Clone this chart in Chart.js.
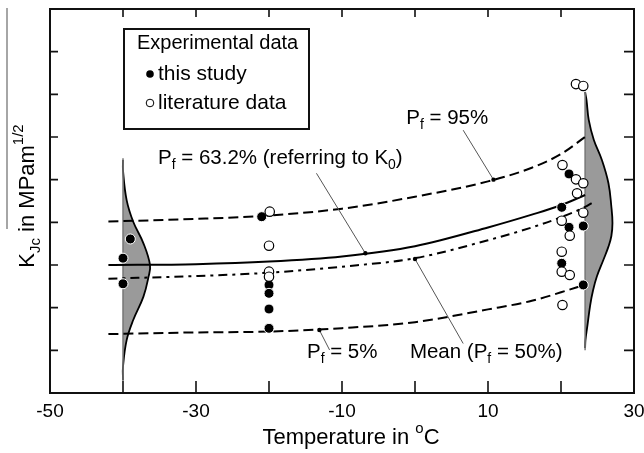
<!DOCTYPE html>
<html>
<head>
<meta charset="utf-8">
<script src="https://cdn.jsdelivr.net/npm/chart.js@4.4.1/dist/chart.umd.min.js"></script>
<style>
  html, body { margin: 0; background: #fff; }
</style>
</head>
<body>
<canvas id="chart" width="644" height="453"></canvas>
<script>
// curves
const curveT = [-42, -30, -20, -10, 0, 10, 16, 20, 23.3];
const pf95 = [201, 204, 208, 216, 230, 248, 264, 280, 300];
const pf632 = [150, 151, 154, 160, 172, 194, 209, 220, 232];
const meanT = [-42, -30, -20, -10, 0, 10, 16, 20, 23.3, 24.3];
const pf50 = [134, 137, 141, 148, 158, 179, 194, 206, 218, 223];
const pf5 = [69, 71, 72, 76, 83, 98, 108, 118, 127];

// experimental data
const studyT = [-39, -40, -40, -21, -20, -20, -20, -20, 21.1, 20.1, 21.1, 23.05, 20.1, 23.05];
const studyK = [180.5, 158, 128, 206.6, 126.6, 116.8, 98.4, 75.8, 256.7, 217.6, 194.2, 195.7, 152, 126.6];
const litT = [-19.9, -20, -20, -20, 20.2, 22.05, 23.05, 22.2, 23.05, 20.1, 21.2, 20.1, 20.1, 21.2, 20.2, 22.05, 23.05];
const litK = [212.5, 172.6, 142.2, 136.3, 267.2, 250.4, 245.8, 234, 211.3, 201.9, 184.4, 165.6, 142.2, 138.3, 103.1, 362, 359.8];

// scatter distributions at -40 and +23 degC
const distLT = [-40, -40, -39.5, -38.6, -37.2, -36.3, -36.5, -37.2, -38.6, -39.5, -40, -40];
const distLK = [273, 261, 226, 200.7, 175.4, 150, 136.3, 112.9, 85.5, 62, 30.8, 15.2];
const distRT = [23.3, 23.5, 23.8, 24.5, 25.6, 26.5, 26.9, 27.05, 26.9, 26.5, 25.8, 24.9, 24.4, 24.0, 23.6, 23.35, 23.3];
const distRK = [352.7, 343, 320, 296.5, 273, 245.8, 218.3, 199.2, 184, 171.5, 155.9, 136.3, 120.7, 103.1, 77.7, 62, 52.7];

const FONT = 'Arial, "Liberation Sans", sans-serif';
const pts = (xs, ys) => xs.map((v, i) => ({ x: v, y: ys[i] }));

function rich(ctx, parts, x, y, size, align) {
  const sizeOf = m => (m ? size * 0.68 : size);
  let w = 0;
  parts.forEach(([t, m]) => { ctx.font = `${sizeOf(m)}px ${FONT}`; w += ctx.measureText(t).width; });
  let cx = align === 'center' ? x - w / 2 : x;
  ctx.textBaseline = 'middle';
  ctx.textAlign = 'left';
  parts.forEach(([t, m]) => {
    ctx.font = `${sizeOf(m)}px ${FONT}`;
    const dy = m === 'sub' ? size * 0.34 : m === 'sup' ? -size * 0.42 : 0;
    ctx.fillText(t, cx, y + dy);
    cx += ctx.measureText(t).width;
  });
}

const notes = [
  { parts: [['P', ''], ['f', 'sub'], [' = 95%', '']], dot: [10.75, 250], end: [6.6, 308], at: [-1.2, 322] },
  { parts: [['P', ''], ['f', 'sub'], [' = 63.2% (referring to K', ''], ['0', 'sub'], [')', '']], dot: [-6.8, 163.7], end: [-13.5, 257.5], at: [-35.2, 275.4] },
  { parts: [['Mean (P', ''], ['f', 'sub'], [' = 50%)', '']], dot: [0, 157], end: [6.6, 58], at: [-0.7, 48] },
  { parts: [['P', ''], ['f', 'sub'], [' = 5%', '']], dot: [-13.1, 73.8], end: [-11.7, 50.4], at: [-14.8, 48] }
];

const decor = {
  id: 'decor',
  afterDatasetsDraw(chart) {
    const { ctx, scales: { x, y } } = chart;
    ctx.save();
    ctx.fillStyle = '#000';
    notes.forEach(n => {
      const dx = x.getPixelForValue(n.dot[0]), dy = y.getPixelForValue(n.dot[1]);
      ctx.strokeStyle = '#555';
      ctx.lineWidth = 1;
      ctx.beginPath();
      ctx.moveTo(dx, dy);
      ctx.lineTo(x.getPixelForValue(n.end[0]), y.getPixelForValue(n.end[1]));
      ctx.stroke();
      ctx.beginPath();
      ctx.arc(dx, dy, 2.2, 0, Math.PI * 2);
      ctx.fill();
      rich(ctx, n.parts, x.getPixelForValue(n.at[0]), y.getPixelForValue(n.at[1]), 20.5, 'left');
    });
    ctx.restore();
  },
  afterDraw(chart) {
    const { ctx, chartArea: a, scales: { x, y } } = chart;
    ctx.save();
    // frame + inward ticks
    ctx.strokeStyle = '#111';
    ctx.lineWidth = 2;
    ctx.strokeRect(a.left, a.top, a.right - a.left, a.bottom - a.top);
    ctx.lineWidth = 1.6;
    ctx.beginPath();
    x.ticks.forEach(t => {
      const px = x.getPixelForValue(t.value);
      ctx.moveTo(px, a.bottom); ctx.lineTo(px, a.bottom - 12);
      ctx.moveTo(px, a.top); ctx.lineTo(px, a.top + 8);
    });
    y.ticks.forEach(t => {
      const py = y.getPixelForValue(t.value);
      ctx.moveTo(a.left, py); ctx.lineTo(a.left + 8, py);
      ctx.moveTo(a.right, py); ctx.lineTo(a.right - 10, py);
    });
    ctx.stroke();

    // axis titles
    ctx.fillStyle = '#000';
    rich(ctx, [['Temperature in ', ''], ['o', 'sup'], ['C', '']], 351, 438, 22, 'center');
    ctx.save();
    ctx.translate(28, 196);
    ctx.rotate(-Math.PI / 2);
    rich(ctx, [['K', ''], ['Jc', 'sub'], [' in MPam', ''], ['1/2', 'sup']], 0, 0, 22, 'center');
    ctx.restore();
    ctx.strokeStyle = '#888';
    ctx.lineWidth = 1.5;
    ctx.beginPath();
    ctx.moveTo(7, 8); ctx.lineTo(7, 229);
    ctx.stroke();

    // legend box
    const lx = a.left + 74, ly = a.top + 20;
    ctx.strokeStyle = '#111';
    ctx.lineWidth = 2;
    ctx.strokeRect(lx, ly, 185, 100);
    ctx.font = `20px ${FONT}`;
    ctx.textBaseline = 'middle';
    ctx.textAlign = 'left';
    ctx.fillText('Experimental data', lx + 13, ly + 14);
    const ds = chart.data.datasets;
    ctx.font = `21px ${FONT}`;
    [0, 1].forEach(i => {
      const cy = ly + 45 + i * 29;
      ctx.beginPath();
      ctx.arc(lx + 26, cy, 3.8, 0, Math.PI * 2);
      ctx.fillStyle = ds[i].backgroundColor;
      ctx.fill();
      ctx.lineWidth = 1;
      ctx.strokeStyle = '#000';
      if (i === 1) ctx.stroke();
      ctx.fillStyle = '#000';
      ctx.fillText(ds[i].label, lx + 34, cy);
    });
    ctx.restore();
  }
};

const curve = (label, xs, ys, dash, order) => ({
  label, data: pts(xs, ys), borderColor: '#000', borderWidth: 2, borderDash: dash,
  pointRadius: 0, fill: false, cubicInterpolationMode: 'monotone', order
});
const dist = (label, xs, ys) => ({
  label, data: pts(xs, ys), borderColor: '#000', borderWidth: 1.8, backgroundColor: '#9a9a9a',
  pointRadius: 0, fill: 'shape', tension: 0.4, order: 9
});
const base = (label, x0, y0, y1) => ({
  label, data: [{ x: x0, y: y0 }, { x: x0, y: y1 }], borderColor: '#777', borderWidth: 1.5,
  pointRadius: 0, fill: false, order: 8
});

new Chart(document.getElementById('chart'), {
  type: 'line',
  data: {
    datasets: [
      { label: 'this study', data: pts(studyT, studyK), showLine: false, pointRadius: 5, pointHoverRadius: 5,
        backgroundColor: '#000', borderColor: '#fff', borderWidth: 1, order: 1 },
      { label: 'literature data', data: pts(litT, litK), showLine: false, pointRadius: 4.7, pointHoverRadius: 4.7,
        backgroundColor: '#fff', borderColor: '#000', borderWidth: 1.2, order: 0 },
      curve('Pf = 95%', curveT, pf95, [10, 5], 3),
      curve('Pf = 63.2%', curveT, pf632, [], 3),
      curve('Mean', meanT, pf50, [9, 5, 3, 5], 3),
      curve('Pf = 5%', curveT, pf5, [10, 5], 3),
      base('base -40', -40, 275, 14),
      base('base 23', 23.3, 352.7, 50),
      dist('dist -40', distLT, distLK),
      dist('dist 23', distRT, distRK)
    ]
  },
  options: {
    responsive: false,
    animation: false,
    layout: { padding: { left: 50, right: 10, top: 9, bottom: 0 } },
    plugins: { legend: { display: false }, tooltip: { enabled: false } },
    scales: {
      x: {
        type: 'linear', min: -50, max: 30,
        grid: { display: false, drawTicks: false },
        border: { display: false },
        ticks: {
          stepSize: 10, autoSkip: false, maxRotation: 0, padding: 7,
          color: '#000', font: { family: FONT, size: 19 },
          callback: v => (Math.abs(v) % 20 === 10 ? String(v) : '')
        },
        title: { display: false, text: 'Temperature in oC' },
        afterFit: s => { s.height = 60; s.paddingLeft = 0; s.paddingRight = 0; }
      },
      y: {
        min: 0, max: 450,
        grid: { display: false, drawTicks: false },
        border: { display: false },
        ticks: { stepSize: 50, display: false },
        afterFit: s => { s.width = 0; s.paddingTop = 0; s.paddingBottom = 0; }
      }
    }
  },
  plugins: [decor]
});
</script>
</body>
</html>
